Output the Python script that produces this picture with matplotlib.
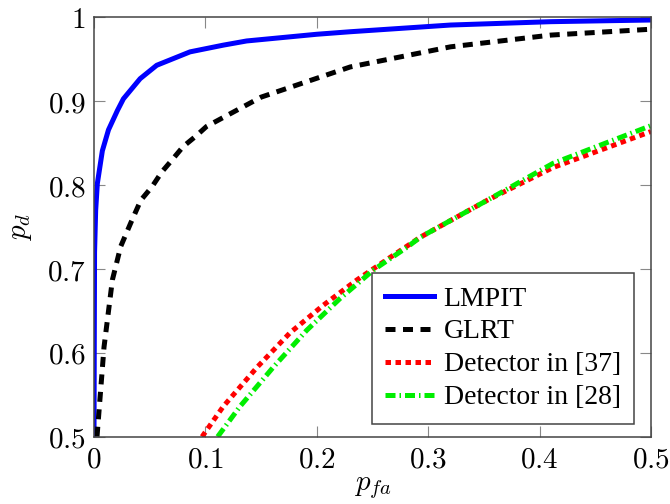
import matplotlib
matplotlib.use("Agg")
import matplotlib.pyplot as plt

plt.rcParams['mathtext.fontset'] = 'cm'

pfa_lmpit = [0, 0.0005, 0.0015, 0.003, 0.0075, 0.013, 0.021, 0.0264, 0.0414, 0.0563,
             0.0862, 0.116, 0.137, 0.2, 0.23, 0.32, 0.41, 0.5]
pd_lmpit = [0.5, 0.72, 0.77, 0.802, 0.841, 0.866, 0.889, 0.903, 0.927, 0.943,
            0.959, 0.967, 0.972, 0.980, 0.983, 0.991, 0.995, 0.997]

pfa_glrt = [0.0027, 0.006, 0.009, 0.0135, 0.0165, 0.024, 0.033, 0.042, 0.052, 0.061,
            0.070, 0.080, 0.091, 0.101, 0.15, 0.23, 0.32, 0.41, 0.5]
pd_glrt = [0.5, 0.556, 0.607, 0.655, 0.687, 0.727, 0.755, 0.782, 0.798, 0.816,
           0.830, 0.846, 0.858, 0.870, 0.905, 0.941, 0.965, 0.979, 0.986]

pfa_d37 = [0.097, 0.116, 0.1465, 0.176, 0.206, 0.236, 0.266, 0.293, 0.353, 0.412, 0.5]
pd_d37 = [0.5, 0.536, 0.583, 0.624, 0.657, 0.687, 0.714, 0.738, 0.782, 0.821, 0.864]

pfa_d28 = [0.111, 0.131, 0.161, 0.191, 0.221, 0.251, 0.281, 0.293, 0.353, 0.412, 0.5]
pd_d28 = [0.5, 0.536, 0.583, 0.627, 0.665, 0.699, 0.726, 0.738, 0.782, 0.826, 0.871]

xticks = [0, 0.1, 0.2, 0.3, 0.4, 0.5]
yticks = [0.5, 0.6, 0.7, 0.8, 0.9, 1.0]
xticklabels = ['$0$', '$0.1$', '$0.2$', '$0.3$', '$0.4$', '$0.5$']
yticklabels = ['$0.5$', '$0.6$', '$0.7$', '$0.8$', '$0.9$', '$1$']

fig = plt.figure(figsize=(6.7, 5.04), dpi=100)
ax = fig.add_axes([0.1403, 0.1335, 0.8313, 0.8318])

lw = 3.6
ax.plot(pfa_lmpit, pd_lmpit, color='#0000ff', lw=lw, label='LMPIT', solid_joinstyle='round')
ax.plot(pfa_glrt, pd_glrt, color='black', lw=lw, linestyle=(0, (2.0, 1.5)), label='GLRT')
ax.plot(pfa_d37, pd_d37, color='#ff0000', lw=lw, linestyle=(0, (1.1, 0.9)), label='Detector in [37]')
ax.plot(pfa_d28, pd_d28, color='#00ee00', lw=lw, linestyle=(0, (2.0, 0.8, 0.3, 0.8)),
        label='Detector in [28]')

ax.set_xlim(0, 0.5)
ax.set_ylim(0.5, 1.0)
ax.set_xticks(xticks)
ax.set_yticks(yticks)
ax.set_xticklabels(xticklabels, fontsize=21)
ax.set_yticklabels(yticklabels, fontsize=21)
ax.tick_params(direction='in', length=8, width=0.8, color='#888888',
               top=True, right=True, pad=6)
for s in ax.spines.values():
    s.set_color('#444444')
    s.set_linewidth(1.1)

ax.set_xlabel('$p_{fa}$', fontsize=21, labelpad=0)
ax.set_ylabel('$p_d$', fontsize=21, labelpad=9)

leg = ax.legend(loc='lower right', bbox_to_anchor=(0.9695, 0.031),
                prop={'family': 'Liberation Serif', 'size': 20},
                fancybox=False, framealpha=1, edgecolor='#444444',
                handlelength=1.75, handletextpad=0.35, labelspacing=0.27,
                borderpad=0.48, borderaxespad=0)
leg.get_frame().set_linewidth(1.1)

fig.savefig('out.png', dpi=100)
